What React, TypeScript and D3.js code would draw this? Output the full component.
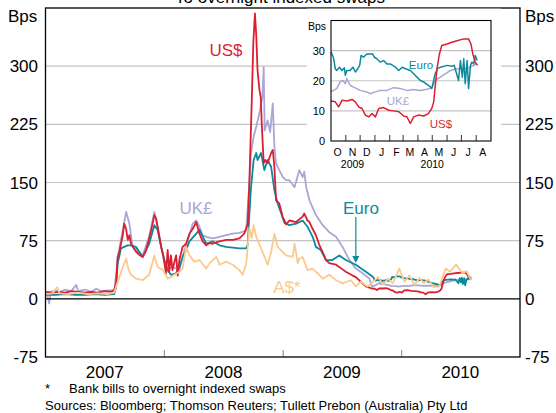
import React from 'react';
import * as d3 from 'd3';

// ---------- DATA ----------
const yearLabels = ['2007', '2008', '2009', '2010'];
const mainTicks = [-75, 0, 75, 150, 225, 300];
const gridTicks = [75, 150, 225, 300];
const insetTicks = [0, 10, 20, 30];
const insetMonths = ['O', 'N', 'D', 'J', 'F', 'M', 'A', 'M', 'J', 'J', 'A'];
const insetYears: [string, string][] = [['2009', '2009-11-15'], ['2010', '2010-05-01']];

// US$ main chart (to Sep 2009); Oct 2009 on comes from the inset array
const usdMain: [string, number][] = [
  ['2007-01-02', 9], ['2007-01-20', 8], ['2007-02-10', 9], ['2007-03-01', 8], ['2007-03-20', 10],
  ['2007-04-10', 9], ['2007-05-01', 8], ['2007-05-20', 9], ['2007-06-10', 8], ['2007-06-30', 10],
  ['2007-07-20', 9], ['2007-07-30', 11], ['2007-08-05', 20], ['2007-08-10', 54], ['2007-08-15', 60],
  ['2007-08-20', 71], ['2007-08-25', 80], ['2007-08-30', 97], ['2007-09-05', 90], ['2007-09-10', 76],
  ['2007-09-15', 82], ['2007-09-20', 71], ['2007-10-05', 61], ['2007-10-15', 57], ['2007-10-26', 54],
  ['2007-11-05', 62], ['2007-11-15', 78], ['2007-11-22', 90], ['2007-12-01', 108], ['2007-12-06', 104],
  ['2007-12-11', 93], ['2007-12-22', 67], ['2007-12-28', 56], ['2008-01-06', 33], ['2008-01-11', 63],
  ['2008-01-16', 35], ['2008-01-21', 56], ['2008-01-26', 37], ['2008-02-01', 48], ['2008-02-06', 56],
  ['2008-02-11', 30], ['2008-02-16', 50], ['2008-02-26', 67], ['2008-03-08', 71], ['2008-03-18', 84],
  ['2008-03-28', 90], ['2008-04-08', 99], ['2008-04-18', 84], ['2008-04-28', 74], ['2008-05-09', 69],
  ['2008-05-19', 72], ['2008-05-29', 71], ['2008-06-09', 73], ['2008-06-19', 74], ['2008-07-09', 76],
  ['2008-07-30', 76], ['2008-08-19', 78], ['2008-09-03', 84], ['2008-09-14', 97], ['2008-09-19', 153],
  ['2008-09-26', 252], ['2008-10-01', 330], ['2008-10-06', 368], ['2008-10-10', 340], ['2008-10-14', 295],
  ['2008-10-20', 269], ['2008-10-24', 260], ['2008-10-27', 226], ['2008-11-02', 175], ['2008-11-07', 179],
  ['2008-11-14', 175], ['2008-11-25', 188], ['2008-11-30', 192], ['2008-12-05', 170], ['2008-12-10', 127],
  ['2008-12-20', 123], ['2008-12-31', 105], ['2009-01-05', 101], ['2009-01-10', 96], ['2009-01-20', 101],
  ['2009-02-10', 99], ['2009-03-02', 106], ['2009-03-07', 110], ['2009-03-17', 101], ['2009-03-23', 99],
  ['2009-04-02', 90], ['2009-04-12', 82], ['2009-04-22', 70], ['2009-05-03', 60], ['2009-05-13', 50],
  ['2009-05-23', 46], ['2009-06-13', 44], ['2009-07-03', 38], ['2009-07-13', 35], ['2009-08-03', 30],
  ['2009-08-13', 28], ['2009-08-23', 24], ['2009-09-13', 16],
];

const euroMain: [string, number][] = [
  ['2007-01-02', 5], ['2007-02-01', 5], ['2007-03-01', 6], ['2007-04-01', 5], ['2007-05-01', 5],
  ['2007-06-01', 6], ['2007-07-01', 5], ['2007-07-30', 6], ['2007-08-05', 15], ['2007-08-10', 46],
  ['2007-08-15', 55], ['2007-08-20', 65], ['2007-08-30', 67], ['2007-09-10', 69], ['2007-09-20', 69],
  ['2007-10-05', 67], ['2007-10-15', 61], ['2007-10-26', 54], ['2007-11-15', 71], ['2007-12-01', 95],
  ['2007-12-11', 89], ['2007-12-22', 67], ['2008-01-01', 50], ['2008-01-11', 37], ['2008-01-21', 31],
  ['2008-02-06', 33], ['2008-02-16', 41], ['2008-02-26', 54], ['2008-03-08', 63], ['2008-03-18', 74],
  ['2008-04-08', 84], ['2008-04-18', 89], ['2008-05-09', 71], ['2008-05-29', 74], ['2008-06-19', 69],
  ['2008-07-09', 67], ['2008-08-19', 65], ['2008-09-09', 65], ['2008-09-14', 70], ['2008-09-19', 110],
  ['2008-09-24', 144], ['2008-10-02', 179], ['2008-10-10', 188], ['2008-10-14', 179], ['2008-10-25', 188],
  ['2008-11-04', 166], ['2008-11-14', 179], ['2008-11-25', 170], ['2008-12-05', 140], ['2008-12-15', 123],
  ['2008-12-26', 110], ['2009-01-05', 98], ['2009-01-20', 95], ['2009-02-10', 97], ['2009-03-02', 101],
  ['2009-03-17', 93], ['2009-04-02', 80], ['2009-04-12', 67], ['2009-04-27', 63], ['2009-05-13', 50],
  ['2009-06-02', 50], ['2009-06-23', 56], ['2009-07-13', 50], ['2009-08-13', 44], ['2009-09-13', 35],
];

const ukMain: [string, number][] = [
  ['2007-01-02', 10], ['2007-01-11', -6], ['2007-01-16', 9], ['2007-02-01', 11], ['2007-02-15', 9],
  ['2007-03-01', 12], ['2007-03-20', 10], ['2007-04-04', 18], ['2007-04-10', 10], ['2007-05-01', 12],
  ['2007-05-20', 9], ['2007-06-05', 13], ['2007-06-20', 10], ['2007-07-10', 11], ['2007-07-30', 11],
  ['2007-08-05', 30], ['2007-08-10', 54], ['2007-08-20', 76], ['2007-09-05', 112], ['2007-09-15', 97],
  ['2007-09-25', 67], ['2007-10-10', 61], ['2007-10-26', 56], ['2007-11-15', 80], ['2007-12-01', 112],
  ['2007-12-11', 93], ['2007-12-22', 67], ['2008-01-01', 48], ['2008-01-11', 37], ['2008-01-26', 41],
  ['2008-02-16', 37], ['2008-03-03', 63], ['2008-03-18', 82], ['2008-03-28', 97], ['2008-04-08', 101],
  ['2008-04-18', 93], ['2008-04-28', 82], ['2008-05-09', 80], ['2008-05-29', 78], ['2008-06-19', 80],
  ['2008-07-09', 82], ['2008-07-30', 84], ['2008-08-19', 85], ['2008-09-09', 88], ['2008-09-19', 150],
  ['2008-09-24', 188], ['2008-10-02', 209], ['2008-10-10', 222], ['2008-10-20', 240], ['2008-10-29', 260],
  ['2008-11-02', 299], ['2008-11-05', 217], ['2008-11-14', 230], ['2008-11-22', 215], ['2008-11-30', 252],
  ['2008-12-05', 196], ['2008-12-10', 175], ['2008-12-20', 166], ['2008-12-31', 157], ['2009-01-10', 153],
  ['2009-01-20', 153], ['2009-02-05', 144], ['2009-02-20', 166], ['2009-03-02', 157], ['2009-03-07', 164],
  ['2009-03-13', 144], ['2009-03-23', 127], ['2009-04-12', 108], ['2009-05-03', 95], ['2009-05-23', 86],
  ['2009-06-13', 80], ['2009-07-03', 67], ['2009-07-24', 50], ['2009-08-13', 39], ['2009-09-03', 33],
  ['2009-09-24', 26],
];

const audMain: [string, number][] = [
  ['2007-01-02', 6], ['2007-01-20', 7], ['2007-02-05', 15], ['2007-02-12', 7], ['2007-03-10', 6],
  ['2007-04-10', 8], ['2007-05-10', 6], ['2007-06-10', 7], ['2007-07-10', 6], ['2007-07-30', 8],
  ['2007-08-05', 16], ['2007-08-15', 28], ['2007-08-25', 40], ['2007-09-05', 52], ['2007-09-12', 38],
  ['2007-09-20', 31], ['2007-10-05', 26], ['2007-10-26', 24], ['2007-11-15', 31], ['2007-12-01', 56],
  ['2007-12-11', 41], ['2007-12-28', 37], ['2008-01-11', 26], ['2008-01-21', 28], ['2008-02-16', 35],
  ['2008-02-26', 39], ['2008-03-08', 67], ['2008-03-18', 56], ['2008-04-02', 48], ['2008-04-18', 50],
  ['2008-05-09', 39], ['2008-05-19', 46], ['2008-06-09', 54], ['2008-06-19', 44], ['2008-07-09', 48],
  ['2008-07-30', 44], ['2008-08-19', 37], ['2008-08-29', 31], ['2008-09-09', 45], ['2008-09-19', 92],
  ['2008-09-26', 78], ['2008-10-02', 95], ['2008-10-10', 80], ['2008-10-20', 70], ['2008-10-27', 63],
  ['2008-11-14', 44], ['2008-11-25', 60], ['2008-12-05', 84], ['2008-12-15', 67], ['2009-01-10', 56],
  ['2009-01-30', 54], ['2009-02-05', 71], ['2009-02-15', 46], ['2009-02-20', 52], ['2009-03-02', 54],
  ['2009-03-17', 37], ['2009-04-02', 39], ['2009-04-17', 33], ['2009-05-03', 26], ['2009-05-23', 31],
  ['2009-06-13', 24], ['2009-07-03', 20], ['2009-07-29', 24], ['2009-08-13', 16], ['2009-08-29', 22],
  ['2009-09-18', 16], ['2009-10-05', 22], ['2009-10-20', 28], ['2009-11-05', 18], ['2009-11-20', 26],
  ['2009-12-05', 20], ['2009-12-25', 39], ['2010-01-10', 22], ['2010-01-25', 30], ['2010-02-10', 18],
  ['2010-02-25', 27], ['2010-03-10', 20], ['2010-03-25', 25], ['2010-04-10', 15], ['2010-04-27', 16],
  ['2010-05-17', 39], ['2010-05-30', 35], ['2010-06-18', 44], ['2010-07-08', 33], ['2010-07-20', 36],
  ['2010-08-03', 24],
];

// Inset (Oct 2009 - Aug 2010)
const usdInset: [string, number][] = [
  ['2009-10-01', 13.3], ['2009-10-10', 13], ['2009-10-17', 11.3], ['2009-10-24', 13.5], ['2009-11-04', 13.3],
  ['2009-11-14', 13.8], ['2009-11-21', 13], ['2009-11-28', 11.3], ['2009-12-05', 10.8], ['2009-12-12', 8.6],
  ['2009-12-19', 8], ['2009-12-26', 9.1], ['2010-01-02', 8], ['2010-01-09', 10.8], ['2010-01-19', 11.1],
  ['2010-01-30', 10.2], ['2010-02-09', 10], ['2010-02-20', 9.7], ['2010-03-02', 8.3], ['2010-03-09', 8],
  ['2010-03-16', 5.8], ['2010-03-23', 8], ['2010-04-02', 8.6], ['2010-04-13', 8.3], ['2010-04-23', 9.1],
  ['2010-04-30', 10.8], ['2010-05-04', 13], ['2010-05-07', 17.9], ['2010-05-11', 24], ['2010-05-16', 28.9],
  ['2010-05-21', 31.7], ['2010-06-01', 32.2], ['2010-06-11', 32.8], ['2010-06-22', 33.3], ['2010-07-06', 33.9],
  ['2010-07-16', 33.9], ['2010-07-21', 32.2], ['2010-07-25', 28.9], ['2010-07-30', 26.2], ['2010-08-04', 25.1],
];

const euroInset: [string, number][] = [
  ['2009-10-01', 29.5], ['2009-10-06', 27.8], ['2009-10-10', 24], ['2009-10-13', 23.4], ['2009-10-19', 24.5],
  ['2009-10-24', 23.4], ['2009-10-29', 24.3], ['2009-10-31', 21.8], ['2009-11-03', 23.4], ['2009-11-10', 23.4],
  ['2009-11-16', 24.5], ['2009-11-21', 22.9], ['2009-11-26', 24], ['2009-11-30', 25.1], ['2009-12-03', 28.4],
  ['2009-12-08', 27.8], ['2009-12-15', 28.9], ['2009-12-22', 28.9], ['2009-12-27', 28.9], ['2009-12-31', 27.8],
  ['2010-01-05', 27.3], ['2010-01-12', 26.2], ['2010-01-19', 26.7], ['2010-01-26', 25.6], ['2010-02-02', 25.6],
  ['2010-02-13', 24.5], ['2010-02-20', 23.4], ['2010-02-27', 24.5], ['2010-03-06', 24], ['2010-03-16', 23.4],
  ['2010-03-23', 22.3], ['2010-03-30', 21.2], ['2010-04-06', 20.1], ['2010-04-13', 19.6], ['2010-04-23', 18.5],
  ['2010-04-30', 17.4], ['2010-05-04', 20.1], ['2010-05-07', 22.3], ['2010-05-12', 24], ['2010-05-18', 24.5],
  ['2010-06-01', 25.1], ['2010-06-11', 24.8], ['2010-06-16', 25.1], ['2010-06-20', 22.9], ['2010-06-25', 20.1],
  ['2010-06-29', 26.7], ['2010-07-03', 21.2], ['2010-07-06', 27.3], ['2010-07-09', 19], ['2010-07-13', 26.7],
  ['2010-07-16', 17.4], ['2010-07-20', 25.1], ['2010-07-23', 26.2], ['2010-07-27', 25.6], ['2010-07-30', 28.4],
  ['2010-08-03', 26.7],
];

const ukInset: [string, number][] = [
  ['2009-10-01', 16.3], ['2009-10-06', 16.8], ['2009-10-13', 17.4], ['2009-10-20', 19.6], ['2009-10-26', 20.1],
  ['2009-10-31', 19], ['2009-11-03', 20.7], ['2009-11-10', 18.5], ['2009-11-17', 17.9], ['2009-11-24', 17.4],
  ['2009-12-01', 16.8], ['2009-12-15', 16.3], ['2009-12-22', 15.7], ['2010-01-02', 16.3], ['2010-01-12', 16.8],
  ['2010-01-26', 16.8], ['2010-02-09', 17.7], ['2010-02-23', 17.4], ['2010-03-09', 16.8], ['2010-03-23', 17.1],
  ['2010-04-06', 16.8], ['2010-04-20', 17.2], ['2010-04-30', 17.7], ['2010-05-07', 20.1], ['2010-05-18', 21.2],
  ['2010-05-28', 22.3], ['2010-06-08', 23.4], ['2010-06-22', 24], ['2010-07-06', 24], ['2010-07-20', 24.5],
  ['2010-07-30', 25.4], ['2010-08-03', 25.6],
];

// ---------- COMPONENT ----------
const parse = d3.timeParse('%Y-%m-%d');
type Pt = [Date, number];
const toPts = (a: [string, number][]): Pt[] => a.map(([d, v]) => [parse(d) as Date, v]);

const RED = '#dc1f30';
const TEAL = '#0a8a9c';
const LAV = '#aaa6d6';
const ORANGE = '#fdc98d';
const GRID = '#c4c4c4';
const FONT = 'Liberation Sans, Arial, Helvetica, sans-serif';

export default function App() {
  const W = 556, H = 413;
  const x = d3.scaleTime().domain([new Date(2007, 0, 1), new Date(2011, 0, 1)]).range([46, 520]);
  const y = d3.scaleLinear().domain([-75, 375]).range([357, 8]);
  const line = d3.line<Pt>().x(d => x(d[0])).y(d => y(d[1]));

  const xi = d3.scaleTime().domain([new Date(2009, 9, 1), new Date(2010, 8, 1)]).range([331, 491]);
  const yi = d3.scaleLinear().domain([0, 40]).range([141, 20.5]);
  const lineI = d3.line<Pt>().x(d => xi(d[0])).y(d => yi(d[1]));

  const usd = toPts([...usdMain, ...usdInset]);
  const euro = toPts([...euroMain, ...euroInset]);
  const uk = toPts([...ukMain, ...ukInset]);
  const aud = toPts(audMain);

  const yearStarts = d3.timeYear.range(new Date(2008, 0, 1), new Date(2011, 0, 1));
  const monthStarts = d3.timeMonth.range(new Date(2009, 10, 1), new Date(2010, 8, 1));
  const monthMids = d3.timeMonth.range(new Date(2009, 9, 1), new Date(2010, 8, 1)).map(m => new Date(m.getFullYear(), m.getMonth(), 15));

  const euroArrowX = x(new Date(2009, 7, 13));

  return (
    <svg width={W} height={H} style={{ display: 'block', position: 'absolute', left: 0, top: 0 }} fontFamily={FONT}>
      <rect x={0} y={0} width={W} height={H} fill="#fff" />
      <text x={280} y={3} fontSize={17} textAnchor="middle" fill="#000">To overnight indexed swaps</text>
      <text x={8} y={22} fontSize={17} fill="#000">Bps</text>
      <text x={525} y={22} fontSize={17} fill="#000">Bps</text>

      {gridTicks.map(t => (
        <line key={t} x1={46} x2={520} y1={y(t)} y2={y(t)} stroke={GRID} strokeWidth={1.2} />
      ))}
      {yearStarts.map((d, i) => (
        <line key={i} x1={x(d)} x2={x(d)} y1={357} y2={350} stroke="#999" strokeWidth={1.2} />
      ))}

      {/* main lines */}
      <path d={line(uk) || ''} fill="none" stroke={LAV} strokeWidth={1.8} strokeLinejoin="round" />
      <path d={line(euro) || ''} fill="none" stroke={TEAL} strokeWidth={1.8} strokeLinejoin="round" />
      <path d={line(usd) || ''} fill="none" stroke={RED} strokeWidth={1.8} strokeLinejoin="round" />
      <path d={line(aud) || ''} fill="none" stroke={ORANGE} strokeWidth={1.8} strokeLinejoin="round" />

      <line x1={46} x2={520} y1={y(0)} y2={y(0)} stroke="#000" strokeWidth={1.3} />
      <rect x={45.5} y={y(375)} width={474.5} height={y(-75) - y(375)} fill="none" stroke="#000" strokeWidth={1.3} />

      {mainTicks.map(t => (
        <g key={t}>
          <text x={38} y={y(t) + 6} fontSize={17} textAnchor="end" fill="#000">{t}</text>
          <text x={525} y={y(t) + 6} fontSize={17} textAnchor="start" fill="#000">{t}</text>
        </g>
      ))}
      {yearLabels.map(l => (
        <text key={l} x={x(new Date(+l, 6, 1))} y={378} fontSize={17} textAnchor="middle" fill="#000">{l}</text>
      ))}

      {/* series labels */}
      <text x={226} y={56} fontSize={17} textAnchor="middle" fill={RED}>US$</text>
      <text x={196} y={214} fontSize={17} textAnchor="middle" fill={LAV}>UK£</text>
      <text x={361} y={214} fontSize={17} textAnchor="middle" fill={TEAL}>Euro</text>
      <text x={287} y={293} fontSize={17} textAnchor="middle" fill={ORANGE}>A$*</text>
      <line x1={euroArrowX} x2={euroArrowX} y1={217} y2={258} stroke={TEAL} strokeWidth={1.2} />
      <path d={`M${euroArrowX - 3.5},${256} L${euroArrowX + 3.5},${256} L${euroArrowX},${263} Z`} fill={TEAL} />

      {/* inset */}
      <rect x={307} y={8.7} width={194} height={162} fill="#fff" />
      {insetTicks.filter(t => t > 0).map(t => (
        <line key={t} x1={331} x2={491} y1={yi(t)} y2={yi(t)} stroke={GRID} strokeWidth={1.1} />
      ))}
      {monthStarts.map((d, i) => (
        <line key={i} x1={xi(d)} x2={xi(d)} y1={141} y2={135} stroke="#333" strokeWidth={1} />
      ))}
      <path d={lineI(toPts(ukInset)) || ''} fill="none" stroke={LAV} strokeWidth={1.5} strokeLinejoin="round" />
      <path d={lineI(toPts(euroInset)) || ''} fill="none" stroke={TEAL} strokeWidth={1.5} strokeLinejoin="round" />
      <path d={lineI(toPts(usdInset)) || ''} fill="none" stroke={RED} strokeWidth={1.5} strokeLinejoin="round" />
      <rect x={331} y={20.5} width={160} height={120.5} fill="none" stroke="#000" strokeWidth={1.1} />
      {insetTicks.map(t => (
        <text key={t} x={325} y={yi(t) + 4} fontSize={11} textAnchor="end" fill="#000">{t}</text>
      ))}
      <text x={317} y={30} fontSize={10.5} textAnchor="middle" fill="#000">Bps</text>
      {monthMids.map((d, i) => (
        <text key={i} x={xi(d)} y={156} fontSize={10.5} textAnchor="middle" fill="#000">{insetMonths[i]}</text>
      ))}
      {insetYears.map(([l, d]) => (
        <text key={l} x={xi(parse(d) as Date)} y={167.5} fontSize={10.5} textAnchor="middle" fill="#000">{l}</text>
      ))}
      <text x={421} y={69} fontSize={11.5} textAnchor="middle" fill={TEAL}>Euro</text>
      <text x={398} y={105} fontSize={11.5} textAnchor="middle" fill={LAV}>UK£</text>
      <text x={441} y={128} fontSize={11.5} textAnchor="middle" fill={RED}>US$</text>

      {/* notes */}
      <text x={45} y={393} fontSize={13} fill="#000">*</text>
      <text x={69} y={393} fontSize={13} fill="#000">Bank bills to overnight indexed swaps</text>
      <text x={45} y={410} fontSize={13} fill="#000">Sources: Bloomberg; Thomson Reuters; Tullett Prebon (Australia) Pty Ltd</text>
    </svg>
  );
}
